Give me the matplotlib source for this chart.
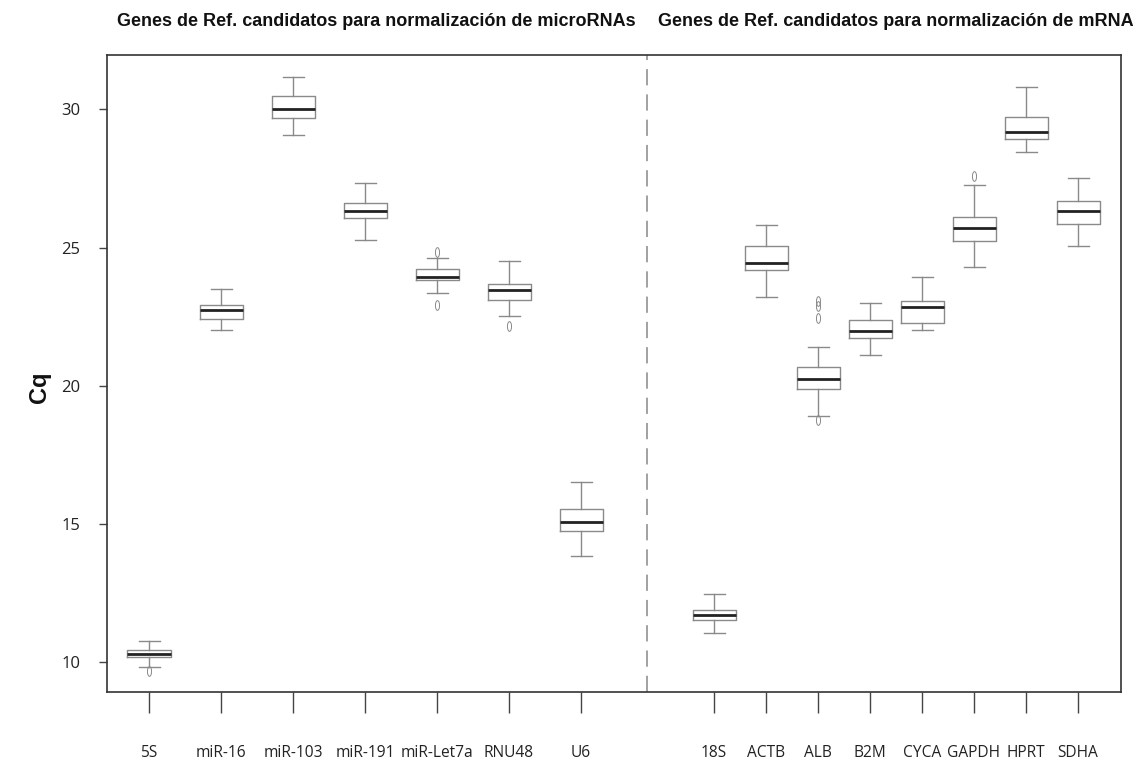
import matplotlib
matplotlib.use("Agg")
import matplotlib.pyplot as plt
from matplotlib.path import Path
from matplotlib.transforms import Affine2D

# ---- data ----
labels_left = ['5S', 'miR-16', 'miR-103', 'miR-191', 'miR-Let7a', 'RNU48', 'U6']
labels_right = ['18S', 'ACTB', 'ALB', 'B2M', 'CYCA', 'GAPDH', 'HPRT', 'SDHA']
labels = labels_left + labels_right

whishi = [10.75, 23.50, 31.17, 27.34, 24.63, 24.50, 16.53,
          12.44, 25.82, 21.40, 22.98, 23.92, 27.26, 30.82, 27.50]
q3 = [10.42, 22.93, 30.50, 26.62, 24.23, 23.68, 15.54,
      11.88, 25.06, 20.68, 22.37, 23.05, 26.09, 29.74, 26.69]
med = [10.30, 22.75, 30.01, 26.32, 23.94, 23.48, 15.06,
       11.68, 24.43, 20.24, 21.97, 22.84, 25.70, 29.19, 26.32]
q1 = [10.17, 22.42, 29.70, 26.08, 23.84, 23.09, 14.75,
      11.51, 24.19, 19.88, 21.73, 22.27, 25.24, 28.92, 25.86]
whislo = [9.83, 22.03, 29.08, 25.29, 23.36, 22.51, 13.82,
          11.04, 23.21, 18.91, 21.11, 22.00, 24.29, 28.47, 25.06]
fliers = [[9.67], [], [], [], [24.84, 22.93], [22.15], [],
          [], [], [23.05, 22.87, 22.45, 18.77], [], [], [27.58], [], []]

title_left = 'Genes de Ref. candidatos para normalización de microRNAs'
title_right = 'Genes de Ref. candidatos para normalización de mRNA'
ylabel = 'Cq'
yticks = [10, 15, 20, 25, 30]

# ---- layout (pixel-like x units) ----
left_x0, left_step = 149, 72
right_x0, right_step = 714, 52
sep_x = 647
positions = [left_x0 + left_step * i for i in range(len(labels_left))] + \
            [right_x0 + right_step * j for j in range(len(labels_right))]

W, H = 1142, 764
fig = plt.figure(figsize=(W / 100, H / 100), dpi=100)
ax = fig.add_axes([107 / W, 1 - 692 / H, (1121 - 107) / W, (692 - 55) / H])

stats = []
for i in range(len(labels)):
    stats.append(dict(med=med[i], q1=q1[i], q3=q3[i], whislo=whislo[i],
                      whishi=whishi[i], fliers=fliers[i], label=labels[i]))

ell = Path.unit_circle().transformed(Affine2D().scale(0.42, 1.0))
gray = '#8a8a8a'
ax.bxp(stats, positions=positions, widths=43, capwidths=21,
       boxprops=dict(color=gray, linewidth=1.0),
       whiskerprops=dict(color=gray, linewidth=1.0),
       capprops=dict(color=gray, linewidth=1.0),
       medianprops=dict(color='#222222', linewidth=2.0, solid_capstyle='butt'),
       flierprops=dict(marker=ell, markersize=7, markerfacecolor='none',
                       markeredgecolor=gray, markeredgewidth=0.7, linestyle='none'),
       manage_ticks=False)

ax.axvline(sep_x, color='#9a9a9a', linewidth=1.3, linestyle=(0, (9, 5)))

ax.set_xlim(107, 1121)
ax.set_ylim(8.91, 31.97)
ax.set_xticks(positions)
ax.set_xticklabels(labels, fontfamily='Open Sans', fontsize=11.2, color='#222222')
ax.set_yticks(yticks)
ax.set_yticklabels([str(t) for t in yticks], fontfamily='Open Sans', fontsize=12, color='#222222')
ax.tick_params(axis='x', length=15, width=1.0, color='#444444', pad=23)
ax.tick_params(axis='y', length=6, width=1.0, color='#444444', pad=13)
for s in ax.spines.values():
    s.set_color('#333333')
    s.set_linewidth(1.2)

fig.text(40 / W, 1 - 387 / H, ylabel, rotation=90, ha='center', va='center',
         fontfamily='Liberation Sans', fontweight='bold', fontsize=17, color='#111111')
fig.text(376 / W, 1 - 22 / H, title_left, ha='center', va='center',
         fontfamily='Liberation Sans', fontweight='bold', fontsize=13, color='#111111')
fig.text(896 / W, 1 - 22 / H, title_right, ha='center', va='center',
         fontfamily='Liberation Sans', fontweight='bold', fontsize=13, color='#111111')

fig.savefig('out.png', dpi=100)
